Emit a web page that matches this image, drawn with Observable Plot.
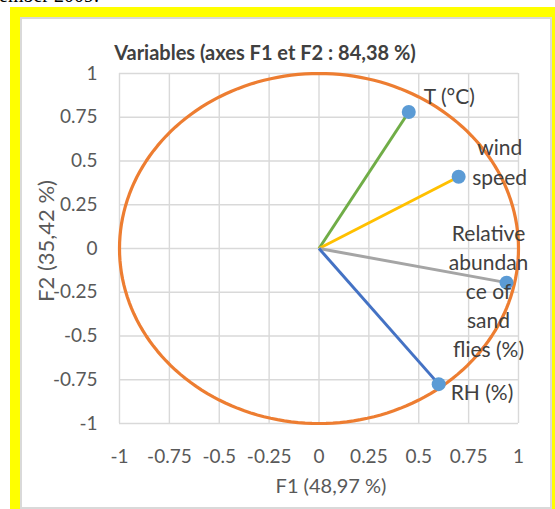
<!DOCTYPE html>
<html>
<head>
<meta charset="utf-8">
<script src="https://cdn.jsdelivr.net/npm/d3@7"></script>
<script src="https://cdn.jsdelivr.net/npm/@observablehq/plot@0.6"></script>
<style>
  html, body { margin: 0; padding: 0; background: #fff; width: 555px; height: 509px; overflow: hidden; }
  #wrap { position: relative; width: 555px; height: 509px; overflow: hidden; }
  #toptext { position: absolute; left: -1px; top: -16px; font-family: "Liberation Serif", serif; font-size: 20px; color: #000; white-space: nowrap; }
  #yellow { position: absolute; left: 10px; top: 7px; width: 560px; height: 520px; background: #ffff00; }
  #panel { position: absolute; left: 20px; top: 17px; width: 528px; height: 488px; background: #fff; border: 2px solid #d9d9d9; }
  #title { position: absolute; left: 0; width: 530px; top: 40px; text-align: center; font-family: Lato, sans-serif; font-weight: bold; font-size: 20px; color: #404040; white-space: nowrap; }
  #ytitle { position: absolute; left: 45px; top: 241px; transform: translate(-50%, -50%) rotate(-90deg); font-family: Lato, sans-serif; font-size: 22px; color: #595959; white-space: nowrap; }
  #chart { position: absolute; left: 0; top: 60px; }
</style>
</head>
<body>
<div id="wrap">
  <div id="toptext">ember 2009.</div>
  <div id="yellow"></div>
  <div id="panel"></div>
  <div id="title">Variables (axes F1 et F2 : 84,38 %)</div>
  <div id="chart"></div>
  <div id="ytitle"></div>
</div>
<script>
// ---- data ----
const variables = ["T (°C)", "wind\nspeed", "Relative\nabundan\nce of\nsand\nflies (%)", "RH (%)"];
const f1 = [0.45, 0.70, 0.94, 0.60];
const f2 = [0.78, 0.41, -0.195, -0.775];
const lineColors = ["#70AD47", "#FFC000", "#A5A5A5", "#4472C4"];
const axisTicks = [-1, -0.75, -0.5, -0.25, 0, 0.25, 0.5, 0.75, 1];
const xTitle = "F1 (48,97 %)";
const yTitle = "F2 (35,42 %)";

document.getElementById("ytitle").textContent = yTitle;

const data = variables.map((v, i) => ({name: v, x: f1[i], y: f2[i], color: lineColors[i]}));
// unit correlation circle (geometric construct)
const circle = d3.range(0, 361, 2).map(a => ({x: Math.cos(a * Math.PI / 180), y: Math.sin(a * Math.PI / 180)}));

const labelOffsets = [
  {dx: 15, dy: -15, textAnchor: "start", lineHeight: 1},
  {dx: 41, dy: -16, textAnchor: "middle", lineHeight: 1.43},
  {dx: -18, dy: 7, textAnchor: "middle", lineHeight: 1.39},
  {dx: 12, dy: 9, textAnchor: "start", lineHeight: 1}
];

const gridStyle = {stroke: "#d9d9d9", strokeOpacity: 1, strokeWidth: 1.4};

const chart = Plot.plot({
  width: 555,
  height: 449,
  marginLeft: 119,
  marginRight: 37,
  marginTop: 13,
  marginBottom: 86,
  x: {domain: [-1, 1]},
  y: {domain: [-1, 1]},
  style: {fontFamily: "Lato, sans-serif", fontSize: "19px", color: "#595959", background: "transparent", overflow: "visible"},
  marks: [
    Plot.gridX(axisTicks, gridStyle),
    Plot.gridY(axisTicks, gridStyle),
    Plot.axisX(axisTicks, {tickSize: 0, tickPadding: 26, tickFormat: d => String(d), label: null, fill: "#595959", fontSize: 19}),
    Plot.axisY(axisTicks, {tickSize: 0, tickPadding: 22, tickFormat: d => String(d), label: null, fill: "#595959", fontSize: 19}),
    Plot.line(circle, {x: "x", y: "y", stroke: "#ED7D31", strokeWidth: 3.2}),
    Plot.link(data, {x1: 0, y1: 0, x2: "x", y2: "y", stroke: "color", strokeWidth: 3}),
    Plot.dot(data, {x: "x", y: "y", r: 7, fill: "#5B9BD5"}),
    ...data.map((d, i) => Plot.text([d], {
      x: "x", y: "y", text: "name",
      dx: labelOffsets[i].dx, dy: labelOffsets[i].dy,
      textAnchor: labelOffsets[i].textAnchor, lineHeight: labelOffsets[i].lineHeight,
      fill: "#404040", fontSize: 21
    })),
    Plot.text([xTitle], {frameAnchor: "bottom", dx: 12, dy: 69, fill: "#595959", fontSize: 20})
  ]
});
document.getElementById("chart").appendChild(chart);
</script>
</body>
</html>
